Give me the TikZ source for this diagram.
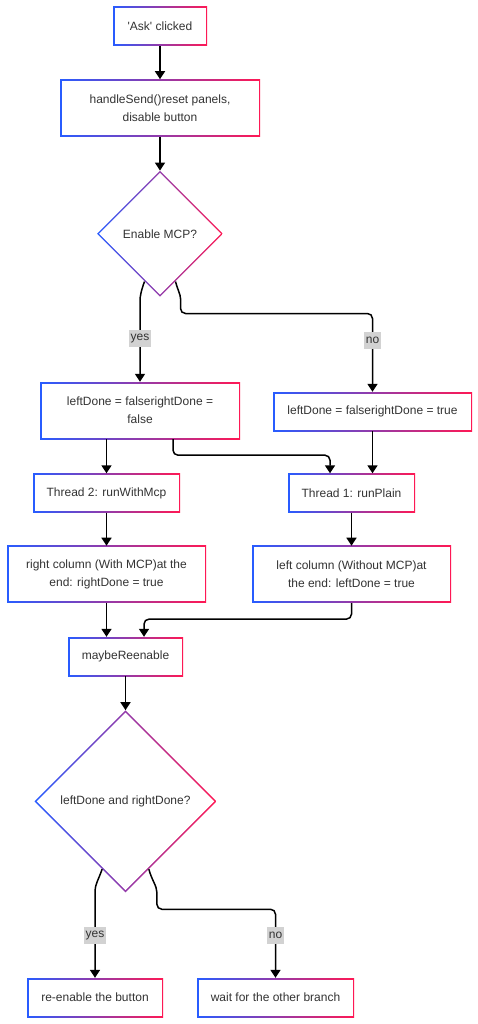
\documentclass[tikz,border=0pt]{standalone}
\usepackage{fontspec}
\setmainfont{Liberation Sans}
\usetikzlibrary{positioning, arrows.meta, shapes.geometric}
\definecolor{gblue}{RGB}{40,92,255}
\definecolor{gred}{RGB}{255,24,84}
\definecolor{txt}{RGB}{51,51,51}

\begin{document}
\begin{tikzpicture}[
    x=1pt, y=-1pt,
    font=\fontsize{12}{18}\selectfont,
    box/.style={rectangle, text=txt, align=center, inner sep=0pt, minimum height=39pt,
        path picture={
            \shade[left color=gblue, right color=gred] (path picture bounding box.south west) rectangle (path picture bounding box.north east);
            \fill[white] ([shift={(1.5pt,1.5pt)}]path picture bounding box.south west) rectangle ([shift={(-1.5pt,-1.5pt)}]path picture bounding box.north east);
        }},
    choice/.style={diamond, aspect=1, text=txt, inner sep=0pt,
        path picture={
            \shade[left color=gblue, right color=gred] (path picture bounding box.south west) rectangle (path picture bounding box.north east);
            \fill[white] ([yshift=-2.1pt]path picture bounding box.north) -- ([xshift=-2.1pt]path picture bounding box.east) -- ([yshift=2.1pt]path picture bounding box.south) -- ([xshift=2.1pt]path picture bounding box.west) -- cycle;
        }},
    arrow/.style={-{Triangle[length=8pt,width=10pt]}, line width=1.5pt, rounded corners=5pt},
    lbl/.style={sharp corners, fill=gray!35, text=txt, inner sep=1.5pt, minimum height=17pt}
]
\useasboundingbox[fill=white] (0,0) rectangle (478,1024);

% Start
\node[box, minimum width=94pt] (ask) at (160,26.5) {\textquotesingle Ask\textquotesingle\ clicked};
\node[box, minimum width=200pt, minimum height=57pt, below=33pt of ask] (send) {handleSend()reset panels,\\disable button};
\node[choice, minimum size=126pt, below=34pt of send] (mcp) {Enable MCP?};

% Flags
\node[box, minimum width=200pt, minimum height=57pt] (init) at (140,410.5) {leftDone = falserightDone =\\false};
\node[box, minimum width=199pt] (initr) at (372.5,411.5) {leftDone = falserightDone = true};

% Threads
\node[box, minimum width=147pt] (thrB) at (106.5,493) {Thread 2: runWithMcp};
\node[box, minimum width=127pt] (thrA) at (351.5,493) {Thread 1: runPlain};
\node[box, minimum width=199pt, minimum height=57pt, below=33pt of thrB] (colR) {right column (With MCP)at the\\end: rightDone = true};
\node[box, minimum width=199pt, minimum height=57pt, below=33pt of thrA] (colL) {left column (Without MCP)at\\the end: leftDone = true};

% Join
\node[box, minimum width=115pt] (maybe) at (125.5,656.5) {maybeReenable};
\node[choice, minimum size=182pt, below=34pt of maybe] (done) {leftDone and rightDone?};
\node[box, minimum width=136pt] (reen) at (95,997.5) {re-enable the button};
\node[box, minimum width=157pt] (wait) at (275.5,997.5) {wait for the other branch};

% Edges
\draw[arrow] (ask) -- (send);
\draw[arrow] (send) -- (mcp);
\draw[arrow] (mcp.252) to[out=250, in=90] (init.north |- 0,306) -- node[lbl, pos=0.43] {yes} (init.north);
\draw[arrow] (mcp.288) to[out=285, in=90] ++(5,22) -- ++(0,10) -| node[lbl, pos=0.67] {no} (initr.north);
\draw[arrow] (thrB.north |- init.south) -- (thrB.north);
\draw[arrow] ([xshift=33pt]init.south) -- ++(0,16) -| ([xshift=-21.5pt]thrA.north);
\draw[arrow] (initr.south) -- (initr.south |- thrA.north);
\draw[arrow] (thrB) -- (colR);
\draw[arrow] (thrA) -- (colL);
\draw[arrow] (colR.south) -- (colR.south |- maybe.north);
\draw[arrow] (colL.south) -- ++(0,16) -| ([xshift=18.5pt]maybe.north);
\draw[arrow] (maybe) -- (done);
\draw[arrow] (done.251) to[out=250, in=90] (reen.north |- 0,896) -- node[lbl, pos=0.48] {yes} (reen.north);
\draw[arrow] (done.289) to[out=285, in=90] ++(8,28) -- ++(0,12) -| node[lbl, pos=0.69] {no} (wait.north);

\end{tikzpicture}
\end{document}
